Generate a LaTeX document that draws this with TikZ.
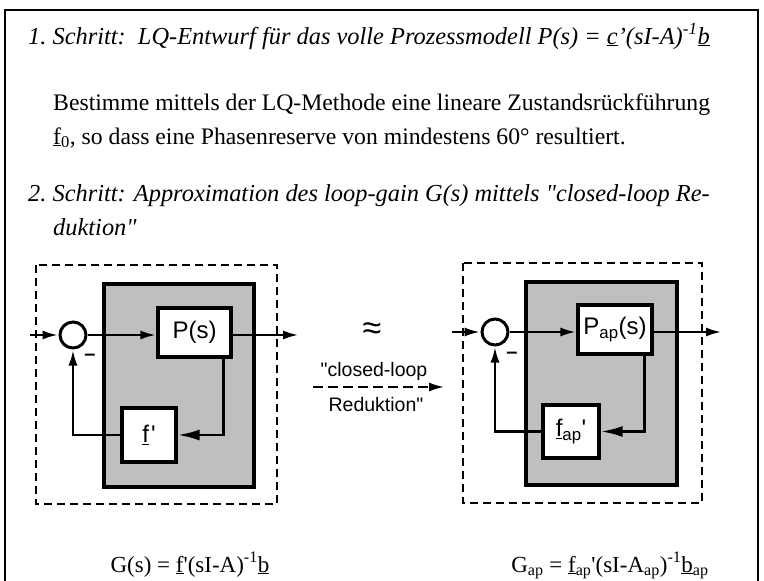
\documentclass[tikz,border=0pt]{standalone}
\usepackage{fontspec}
\setmainfont{Liberation Serif}
\setsansfont{Liberation Sans}
\usetikzlibrary{arrows.meta}
\newcommand{\qs}{\textquotesingle}
\newcommand{\qd}{\textquotedbl}
\begin{document}
\begin{tikzpicture}[x=1pt,y=-1pt,
  frame/.style={line width=2.4pt},
  dashbox/.style={line width=2.3pt, dash pattern=on 8pt off 5pt},
  graybox/.style={fill=black!25, draw, line width=3.4pt},
  blk/.style={draw, fill=white, line width=3.2pt, inner sep=0pt,
    font=\sffamily\fontsize{24}{24}\selectfont},
  sumc/.style={circle, draw, fill=white, line width=3pt, minimum size=26pt, inner sep=0pt},
  conn/.style={line width=2.8pt},
  arr/.style={conn, -{Latex[length=16pt,width=9pt]}},
  bigarr/.style={conn, -{Latex[length=22pt,width=11pt]}},
  txt/.style={anchor=base west, inner sep=0pt, font=\fontsize{23.7}{28}\selectfont},
  itxt/.style={txt, font=\fontsize{24.4}{28}\selectfont\itshape},
  ftxt/.style={anchor=base, inner sep=0pt, font=\fontsize{23}{26}\selectfont},
  lbl/.style={inner sep=0pt, font=\sffamily\fontsize{19.5}{20}\selectfont},
  minus/.style={inner sep=0pt, font=\sffamily\bfseries\fontsize{20}{20}\selectfont}
]
\useasboundingbox (0,0) rectangle (764,581);
% outer frame
\draw[frame] (5,10) rectangle (758,600);

% texts
\node[itxt] (t1) at (28,44) {1.\ Schritt:\ \ LQ-Entwurf für das volle Prozessmodell P(s) = \underline{c}'(sI-A)\textsuperscript{-1}\underline{b}};
\node[txt] (t2) at (53,110) {Bestimme mittels der LQ-Methode eine lineare Zustandsrückführung};
\node[txt] (t3) at (53,144) {\underline{f}\textsubscript{0}, so dass eine Phasenreserve von mindestens 60° resultiert.};
\node[itxt] (t4) at (28,201) {2.\ Schritt: Approximation des loop-gain G(s) mittels \qd closed-loop Re-};
\node[itxt] (t5) at (53,235) {duktion\qd};

% ---------- left diagram ----------
\draw[dashbox] (36,265) rectangle (277,504);
\draw[graybox] (104,284) rectangle (254,487);
\node[sumc] (c1) at (73,335) {};
\node[blk, minimum width=73pt, minimum height=49pt] (P1) at (194.5,332.5) {P(s)};
\node[blk, minimum width=54pt, minimum height=54pt] (F1) at (149,435) {\underline{f}\hspace{2pt}\qs};
\coordinate (in1) at (30,335);
\coordinate (out1) at (299,335);
\draw[arr] (in1) -- (c1.west);
\draw[arr] (c1.east) -- (c1.east -| P1.west);
\draw[arr] (c1.east -| P1.east) -- (out1);
\draw[bigarr] ([xshift=-9pt]P1.south east) |- (F1.east);
\draw[arr] (F1.west) -| (c1.south);
\node[minus] (m1) at (90,357) {–};

% ---------- middle ----------
\node[inner sep=0pt, font=\sffamily\fontsize{34}{34}\selectfont] (ap) at (372,331) {≈};
\node[lbl] (cl) at (374,371) {\qd closed-loop};
\node[lbl] (rd) at (376,405) {Reduktion\qd};
\coordinate (ra) at (313,387);
\coordinate (rb) at (445,387);
\draw[conn, dash pattern=on 10pt off 5pt, -{Latex[length=16pt,width=9pt]}] (ra) -- (rb);

% ---------- right diagram ----------
\draw[dashbox] (463,263) rectangle (702,503);
\draw[graybox] (526,282) rectangle (677,485);
\node[sumc] (c2) at (495,332) {};
\node[blk, minimum width=74pt, minimum height=49pt] (P2) at (615,329.5) {P\textsubscript{ap}(s)};
\node[blk, minimum width=56pt, minimum height=53pt] (F2) at (571,431.5) {\underline{f}\textsubscript{ap}\qs};
\coordinate (in2) at (452,332);
\coordinate (out2) at (722,332);
\draw[arr] (in2) -- (c2.west);
\draw[arr] (c2.east) -- (c2.east -| P2.west);
\draw[arr] (c2.east -| P2.east) -- (out2);
\draw[bigarr] ([xshift=-9pt]P2.south east) |- (F2.east);
\draw[arr] (F2.west) -| (c2.south);
\node[minus] (m2) at (512,355) {–};

% formulas
\node[ftxt] (g1) at (190,572) {G(s) = \underline{f}\qs(sI-A)\textsuperscript{-1}\underline{b}};
\node[ftxt] (g2) at (610,572) {G\textsubscript{ap} = \underline{f}\textsubscript{ap}\qs(sI-A\textsubscript{ap})\textsuperscript{-1}\underline{b}\textsubscript{ap}};
\end{tikzpicture}
\end{document}
